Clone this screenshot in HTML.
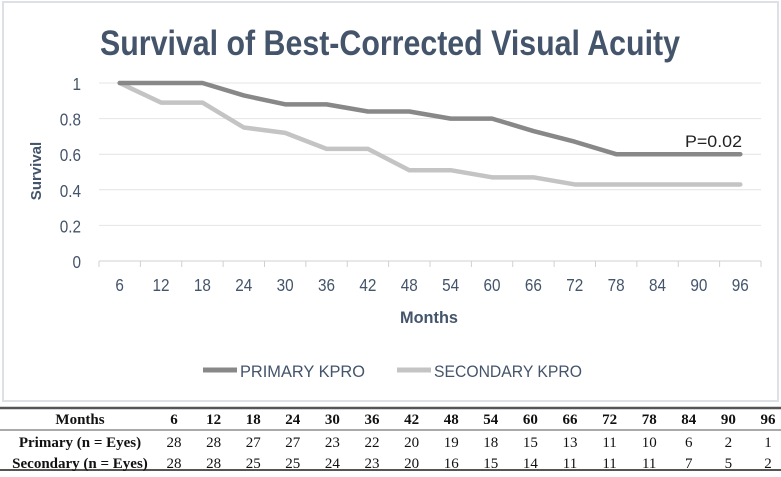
<!DOCTYPE html>
<html><head><meta charset="utf-8"><style>
body{margin:0;background:#fff;width:781px;height:472px;overflow:hidden;font-family:"Liberation Sans",sans-serif}
</style></head><body>
<svg width="781" height="472" xmlns="http://www.w3.org/2000/svg">
<rect x="3" y="2" width="775" height="399" fill="#fff" stroke="#dde1e5" stroke-width="2"/>
<text x="100" y="55" font-size="35" font-weight="bold" fill="#44546a" textLength="580" lengthAdjust="spacingAndGlyphs">Survival of Best-Corrected Visual Acuity</text>
<g id="grid"></g><g id="axes"></g><g id="lines"></g>
<text x="742" y="147" text-anchor="end" font-size="17" fill="#222" textLength="57" lengthAdjust="spacingAndGlyphs">P=0.02</text>
<text transform="translate(41,171) rotate(-90)" text-anchor="middle" font-size="15" font-weight="bold" fill="#44546a">Survival</text>
<text x="400" y="323" font-size="17" font-weight="bold" fill="#44546a" textLength="58" lengthAdjust="spacingAndGlyphs">Months</text>
<g>
<line x1="203" y1="370" x2="237" y2="370" stroke="#888" stroke-width="5"/>
<text x="240" y="377" font-size="17" fill="#44546a" textLength="125" lengthAdjust="spacingAndGlyphs">PRIMARY KPRO</text>
<line x1="397" y1="370" x2="431" y2="370" stroke="#c4c4c4" stroke-width="5"/>
<text x="434" y="377" font-size="17" fill="#44546a" textLength="148" lengthAdjust="spacingAndGlyphs">SECONDARY KPRO</text>
</g>
<g id="table"></g>
</svg>
<script>
const months=[6,12,18,24,30,36,42,48,54,60,66,72,78,84,90,96];
const primary=[1,1,1,0.93,0.88,0.88,0.84,0.84,0.80,0.80,0.73,0.67,0.60,0.60,0.60,0.60];
const secondary=[1,0.89,0.89,0.75,0.72,0.63,0.63,0.51,0.51,0.47,0.47,0.43,0.43,0.43,0.43,0.43];
const yTicks=[0,0.2,0.4,0.6,0.8,1];
const primaryN=[28,28,27,27,23,22,20,19,18,15,13,11,10,6,2,1];
const secondaryN=[28,28,25,25,24,23,20,16,15,14,11,11,11,7,5,2];
const NS="http://www.w3.org/2000/svg";
const L=99,R=761,T=83,B=261;
const bw=(R-L)/months.length;
const xs=i=>L+bw*(i+0.5);
const ys=v=>B-(B-T)*v;
function mk(p,tag,a){const e=document.createElementNS(NS,tag);for(const k in a)e.setAttribute(k,a[k]);p.appendChild(e);return e;}
const grid=document.getElementById('grid'),axes=document.getElementById('axes'),lines=document.getElementById('lines'),tbl=document.getElementById('table');
yTicks.forEach(v=>{
 const g=mk(grid,'line',{x1:L,x2:R,y1:ys(v),y2:ys(v),stroke:v===0?'#d0d0d0':'#e4e4e4','stroke-width':1});
 
 
 const t=mk(axes,'text',{x:81,y:ys(v)+7,'text-anchor':'end','font-size':18,fill:'#44546a',transform:'translate(81,0) scale(0.85,1) translate(-81,0)'});
 t.textContent=String(v);
 
 
});
months.forEach((m,i)=>{
 const tk=mk(axes,'line',{x1:L+bw*i,x2:L+bw*i,y1:B,y2:B+6,stroke:'#d0d0d0'});
 
 
 const x=xs(i);
 const t=mk(axes,'text',{x:x,y:B+30,'text-anchor':'middle','font-size':18,fill:'#44546a',transform:`translate(${x},0) scale(0.85,1) translate(${-x},0)`});
 t.textContent=m;
 
 
});
const tkEnd=mk(axes,'line',{x1:R,x2:R,y1:B,y2:B+6,stroke:'#d0d0d0'});


function series(vals,color,name){
 const p=mk(lines,'polyline',{points:vals.map((v,i)=>xs(i)+','+ys(v)).join(' '),fill:'none',stroke:color,'stroke-width':4.5,'stroke-linejoin':'round','stroke-linecap':'round'});
 
 
}
series(secondary,'#c4c4c4','secondary-kpro-line');
series(primary,'#888888','primary-kpro-line');
const colX=i=>174+i*39.6;
const sf="'Liberation Serif',serif";
[[408,2.5],[430,1],[470,2]].forEach(([y,w])=>{
 const l=mk(tbl,'line',{x1:0,x2:781,y1:y,y2:y,stroke:'#555','stroke-width':w});
 
 
});
function row(label,vals,y,bold,name){
 const t=mk(tbl,'text',{x:80,y:y,'text-anchor':'middle','font-size':15,'font-weight':'bold',fill:'#111','font-family':sf});
 t.textContent=label;
 
 
 vals.forEach((v,i)=>{
  const c=mk(tbl,'text',{x:colX(i),y:y,'text-anchor':'middle','font-size':15,'font-weight':bold?'bold':'normal',fill:'#111','font-family':sf});
  c.textContent=v;
  
  
 });
}
row('Months',months,424,true,'months-row');
row('Primary (n = Eyes)',primaryN,447,false,'primary-row');
row('Secondary (n = Eyes)',secondaryN,468,false,'secondary-row');
</script>
</body></html>
